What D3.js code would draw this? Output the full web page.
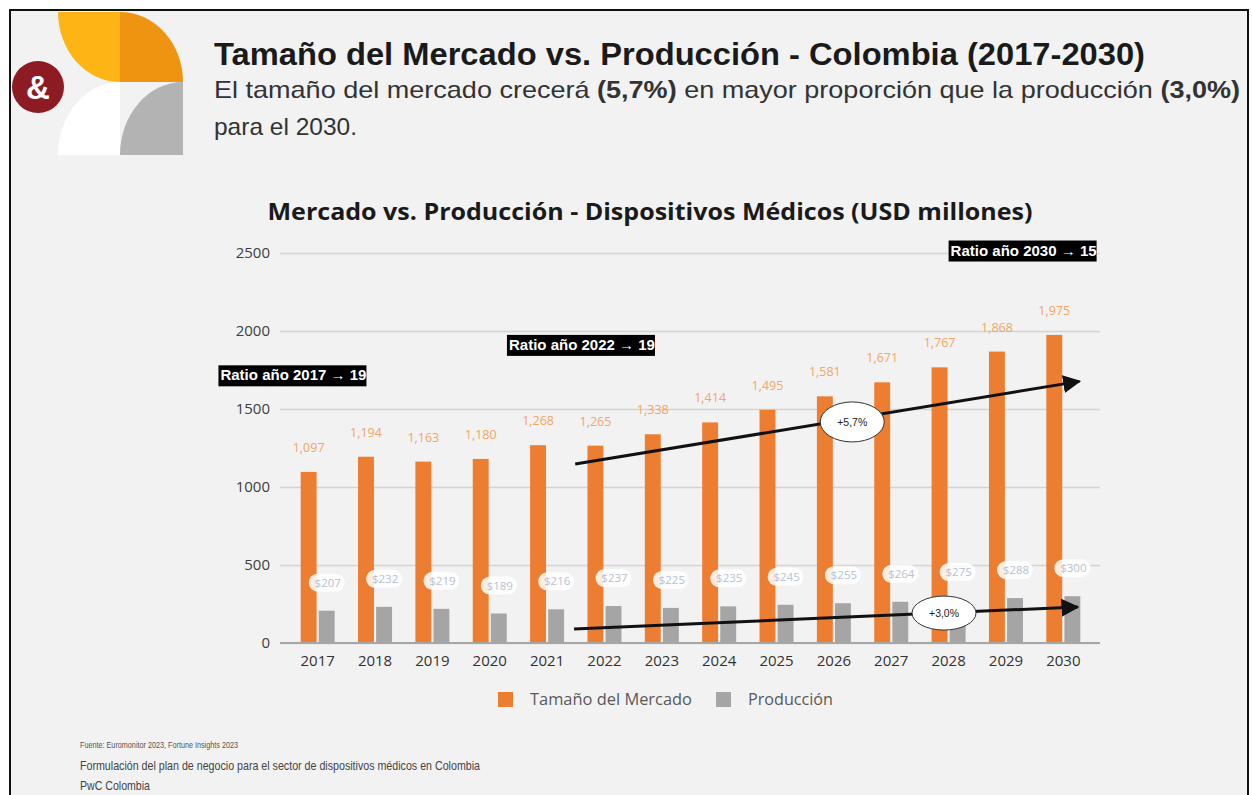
<!DOCTYPE html>
<html><head><meta charset="utf-8">
<script src="https://cdn.jsdelivr.net/npm/d3@7"></script>
<style>
html,body{margin:0;padding:0;background:#fff;}
svg{display:block;}
</style></head>
<body>
<svg id="c" width="1252" height="795"></svg>
<script>
const years = ["2017","2018","2019","2020","2021","2022","2023","2024","2025","2026","2027","2028","2029","2030"];
const mercado = [1097,1194,1163,1180,1268,1265,1338,1414,1495,1581,1671,1767,1868,1975];
const produccion = [207,232,219,189,216,237,225,235,245,255,264,275,288,300];
const yTicks = [0,500,1000,1500,2000,2500];
const seriesNames = ["Tamaño del Mercado","Producción"];
const seriesColors = ["#ED7D31","#A5A5A5"];
// ratio annotations: [text, year index (left edge), value (top)]
const ratioText = ["Ratio año 2017 → 19","Ratio año 2022 → 19","Ratio año 2030 → 15"];
const ratioPos = [[-1.73,1780],[3.30,1975],[11.0,2580]];
// trend arrows: [startIdx, startVal, endIdx, endVal]
const arrowLines = [[4.49,1147,13.28,1677],[4.47,90,13.25,231]];
const arrowLabels = ["+5,7%","+3,0%"];
const arrowLabelPos = [[9.32,1417],[10.92,192]];

const svg = d3.select("#c");
// slide background & border
svg.append("rect").attr("x",10).attr("y",10).attr("width",1238).attr("height",800)
  .attr("fill","#f2f2f2").attr("stroke","#111").attr("stroke-width",2);

// logo
const lg = svg.append("g");
lg.append("path").attr("d","M58,12 L120,12 L120,82 A62,70 0 0 1 58,12 Z").attr("fill","#FDB515");
lg.append("path").attr("d","M120,12 A63,70 0 0 1 183,82 L120,82 Z").attr("fill","#EE9410");
lg.append("path").attr("d","M120,155 A63,73 0 0 1 183,82 L183,155 Z").attr("fill","#B3B3B3");
lg.append("path").attr("d","M58,155 A62,73 0 0 1 120,82 L120,155 Z").attr("fill","#ffffff");
lg.append("circle").attr("cx",38).attr("cy",87).attr("r",26).attr("fill","#8E1B24");
lg.append("text").attr("x",38).attr("y",99).attr("text-anchor","middle")
  .attr("font-family","Liberation Sans").attr("font-weight","bold").attr("font-size",33)
  .attr("fill","#fff").text("&");

// header
svg.append("text").attr("x",214).attr("y",65)
  .attr("font-family","Liberation Sans").attr("font-weight","bold").attr("font-size",31)
  .attr("textLength",931).attr("lengthAdjust","spacingAndGlyphs")
  .attr("fill","#1a1a1a").text("Tamaño del Mercado vs. Producción - Colombia (2017-2030)");
const sub = svg.append("text").attr("x",214).attr("y",98)
  .attr("font-family","Liberation Sans").attr("font-size",24).attr("fill","#333")
  .attr("textLength",1026).attr("lengthAdjust","spacingAndGlyphs");
sub.append("tspan").text("El tamaño del mercado crecerá ");
sub.append("tspan").attr("font-weight","bold").text("(5,7%)");
sub.append("tspan").text(" en mayor proporción que la producción ");
sub.append("tspan").attr("font-weight","bold").text("(3,0%)");
svg.append("text").attr("x",214).attr("y",135)
  .attr("font-family","Liberation Sans").attr("font-size",24).attr("fill","#333")
  .attr("textLength",143).attr("lengthAdjust","spacingAndGlyphs").text("para el 2030.");

// chart title
svg.append("text").attr("x",650).attr("y",220).attr("text-anchor","middle")
  .attr("font-family","Open Sans").attr("font-weight","bold").attr("font-size",24)
  .attr("textLength",765).attr("lengthAdjust","spacingAndGlyphs")
  .attr("fill","#1a1a1a").text("Mercado vs. Producción - Dispositivos Médicos (USD millones)");

// scales
const x = d3.scaleBand().domain(years).range([289,1092]);
const bw = x.bandwidth();
const xi = d3.scaleLinear().domain([0,13]).range([x(years[0])+bw/2, x(years[13])+bw/2]);
const y = d3.scaleLinear().domain([0,2500]).range([643,253]);
const gridL = 280, gridR = 1100;

// y axis w/ gridlines
const ya = svg.append("g").attr("transform",`translate(${gridL},0)`)
  .call(d3.axisLeft(y).tickValues(yTicks).tickSize(-(gridR-gridL)).tickPadding(10).tickFormat(d3.format("d")));
ya.select(".domain").remove();
ya.selectAll(".tick line").attr("stroke","#d4d4d4").attr("stroke-width",1.5);
ya.selectAll(".tick text").attr("font-family","Open Sans").attr("font-size",15).attr("fill","#404040");

const sub2 = d3.scaleBand().domain([0,1]).paddingInner(0.12);
const grp = svg.append("g");
years.forEach((yr,i)=>{
  const c = x(yr)+bw/2;
  sub2.range([c-17,c+17]);
  grp.append("rect").attr("x",sub2(0)).attr("width",sub2.bandwidth())
    .attr("y",y(mercado[i])).attr("height",y(0)-y(mercado[i])).attr("fill",seriesColors[0]);
  grp.append("rect").attr("x",sub2(1)).attr("width",sub2.bandwidth())
    .attr("y",y(produccion[i])).attr("height",y(0)-y(produccion[i])).attr("fill",seriesColors[1]);
  // market label
  grp.append("text").attr("x",sub2(0)+sub2.bandwidth()/2).attr("y",y(mercado[i])-20)
    .attr("text-anchor","middle").attr("font-family","Open Sans").attr("font-size",12.5)
    .attr("fill","#F2A565").text(d3.format(",")(mercado[i]));
  // production label with white box
  const pcx = sub2(1)+sub2.bandwidth()/2;
  const py = y(produccion[i])-28;
  grp.append("rect").attr("x",pcx-18).attr("y",py-9).attr("width",36).attr("height",18)
    .attr("rx",9).attr("fill","#ffffff").attr("opacity",0.85);
  grp.append("text").attr("x",pcx+1).attr("y",py+4).attr("text-anchor","middle")
    .attr("font-family","Open Sans").attr("font-size",11.5).attr("fill","#B7C2D2")
    .text("$"+produccion[i]);
});

// x axis baseline
svg.append("line").attr("x1",gridL).attr("x2",gridR).attr("y1",y(0)).attr("y2",y(0))
  .attr("stroke","#a6a6a6").attr("stroke-width",2);
const xa = svg.append("g").attr("transform",`translate(0,${y(0)})`)
  .call(d3.axisBottom(x).tickSize(0).tickPadding(12));
xa.select(".domain").remove();
xa.selectAll(".tick text").attr("font-family","Open Sans").attr("font-size",15).attr("fill","#333");

// arrows
const defs = svg.append("defs");
defs.append("marker").attr("id","ah").attr("viewBox","0 0 10 10").attr("refX",9).attr("refY",5)
  .attr("markerWidth",6).attr("markerHeight",6).attr("orient","auto")
  .append("path").attr("d","M0,0 L10,5 L0,10 Z").attr("fill","#111");
arrowLines.forEach(a=>{
  svg.append("line").attr("x1",xi(a[0])).attr("y1",y(a[1])).attr("x2",xi(a[2])).attr("y2",y(a[3]))
    .attr("stroke","#111").attr("stroke-width",3).attr("marker-end","url(#ah)");
});
arrowLabels.forEach((t,i)=>{
  const p = arrowLabelPos[i];
  svg.append("ellipse").attr("cx",xi(p[0])).attr("cy",y(p[1])).attr("rx",32).attr("ry",i===0?20:17)
    .attr("fill","#fff").attr("stroke","#333").attr("stroke-width",1);
  svg.append("text").attr("x",xi(p[0])).attr("y",y(p[1])+4).attr("text-anchor","middle")
    .attr("font-family","Liberation Sans").attr("font-size",10.5)
    .attr("textLength",30).attr("lengthAdjust","spacingAndGlyphs").attr("fill","#222").text(t);
});

// ratio boxes
ratioText.forEach((t,i)=>{
  const p = ratioPos[i];
  const bx = xi(p[0]), by = y(p[1]);
  svg.append("rect").attr("x",bx).attr("y",by).attr("width",148).attr("height",21).attr("fill","#000");
  svg.append("text").attr("x",bx+2).attr("y",by+15).attr("font-family","Liberation Sans")
    .attr("textLength",146).attr("lengthAdjust","spacingAndGlyphs")
    .attr("font-weight","bold").attr("font-size",14).attr("fill","#fff").text(t);
});

// legend
const leg = svg.append("g").attr("transform","translate(498,692)");
[0,1].forEach(i=>{
  const gx = i===0?0:218;
  leg.append("rect").attr("x",gx).attr("y",0).attr("width",15).attr("height",15).attr("fill",seriesColors[i]);
  leg.append("text").attr("x",gx+32).attr("y",13).attr("font-family","Open Sans").attr("font-size",15.5)
    .attr("fill","#595959").attr("textLength",i===0?162:85).attr("lengthAdjust","spacingAndGlyphs")
    .text(seriesNames[i]);
});

// footnotes
svg.append("text").attr("x",80).attr("y",748).attr("font-family","Liberation Sans")
  .attr("font-size",9).attr("fill","#555").attr("textLength",158).attr("lengthAdjust","spacingAndGlyphs")
  .text("Fuente: Euromonitor 2023, Fortune Insights 2023");
svg.append("text").attr("x",80).attr("y",770).attr("font-family","Liberation Sans")
  .attr("font-size",13).attr("fill","#444").attr("textLength",400).attr("lengthAdjust","spacingAndGlyphs")
  .text("Formulación del plan de negocio para el sector de dispositivos médicos en Colombia");
svg.append("text").attr("x",80).attr("y",790).attr("font-family","Liberation Sans")
  .attr("font-size",13).attr("fill","#444").attr("textLength",70).attr("lengthAdjust","spacingAndGlyphs")
  .text("PwC Colombia");
</script>
</body></html>
